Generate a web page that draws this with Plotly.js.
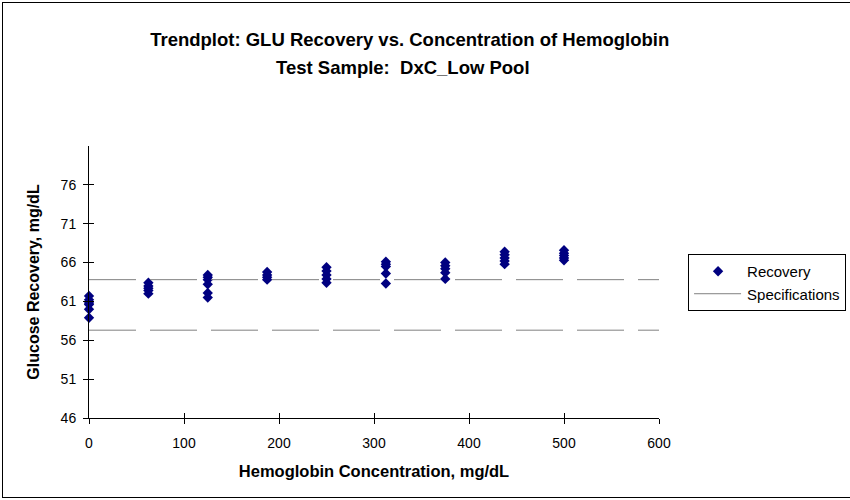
<!DOCTYPE html>
<html>
<head>
<meta charset="utf-8">
<script src="https://cdn.plot.ly/plotly-3.0.1.min.js"></script>
<style>
  html, body { margin: 0; padding: 0; background: #fff; overflow: hidden; }
  #wrap { position: relative; width: 850px; height: 500px; overflow: hidden; }
  #chart { width: 850px; height: 500px; }
  #frame { position: absolute; left: 2px; top: 2px; width: 870px; height: 494px; border: 1px solid #000; pointer-events: none; }
</style>
</head>
<body>
<div id="wrap">
  <div id="chart"></div>
  <div id="frame"></div>
</div>
<script>
// Hemoglobin concentration levels (mg/dL)
const hgbLevels = [0, 62.5, 125, 187.5, 250, 312.5, 375, 437.5, 500];

// Glucose recovery replicates at each level (mg/dL)
const rec0     = [61.7, 61.2, 60.8, 60.6, 60.0, 58.9];
const rec62_5  = [63.4, 63.0, 62.7, 62.4, 62.0];
const rec125   = [64.4, 64.1, 63.8, 63.2, 62.1, 61.5];
const rec187_5 = [64.8, 64.4, 64.1, 63.8];
const rec250   = [65.4, 64.9, 64.4, 63.9, 63.4];
const rec312_5 = [66.1, 65.8, 65.5, 64.6, 63.3];
const rec375   = [66.0, 65.6, 65.2, 64.7, 63.9];
const rec437_5 = [67.4, 67.0, 66.6, 66.2, 65.8];
const rec500   = [67.6, 67.2, 66.9, 66.6, 66.3];

// Specification limits
const specUpper = 63.8;
const specLower = 57.3;
const specRange = [0, 600];

// Axis ticks
const xTicks = [0, 100, 200, 300, 400, 500, 600];
const yTicks = [46, 51, 56, 61, 66, 71, 76];

const recoveryGroups = [rec0, rec62_5, rec125, rec187_5, rec250, rec312_5, rec375, rec437_5, rec500];
const recX = [], recY = [];
recoveryGroups.forEach((g, i) => g.forEach(v => { recX.push(hgbLevels[i]); recY.push(v); }));

const font = 'Liberation Sans, Arial, sans-serif';

const traces = [
  {
    type: 'scatter', mode: 'markers', name: 'Recovery',
    x: recX, y: recY,
    marker: { symbol: 'diamond', size: 8, color: '#000080', line: { width: 0 } },
    cliponaxis: false
  },
  {
    type: 'scatter', mode: 'lines', name: 'Specifications',
    x: [specRange[0], specRange[1], null, specRange[0], specRange[1]],
    y: [specUpper, specUpper, null, specLower, specLower],
    line: { color: '#808080', width: 1, dash: '47px,14px' },
    connectgaps: false
  },
  {
    type: 'scatter', mode: 'markers', x: [null], y: [null],
    xaxis: 'x2', yaxis: 'y2', showlegend: false, hoverinfo: 'skip'
  }
];

const axisCommon = {
  showgrid: false, zeroline: false, showline: true,
  linecolor: '#000', linewidth: 1,
  ticks: 'outside', ticklen: 5, tickcolor: '#000', tickwidth: 1,
  tickfont: { family: font, size: 14, color: '#000' }
};

const layout = {
  width: 850, height: 500,
  margin: { l: 89, r: 191, t: 146, b: 82, autoexpand: false },
  paper_bgcolor: '#fff', plot_bgcolor: '#fff',
  font: { family: font, color: '#000' },
  title: {
    text: 'Trendplot: GLU Recovery vs. Concentration of Hemoglobin',
    font: { family: font, size: 18.5, color: '#000', weight: 'bold' },
    x: 0.482, xanchor: 'center', y: 0.92, yanchor: 'middle'
  },
  annotations: [{
    text: 'Test Sample:  DxC_Low Pool',
    xref: 'paper', yref: 'paper', x: 0.551, y: 1.29,
    xanchor: 'center', yanchor: 'middle', showarrow: false,
    font: { family: font, size: 18.5, color: '#000', weight: 'bold' }
  }],
  xaxis: Object.assign({}, axisCommon, {
    range: [0, 600], tickvals: xTicks, ticktext: xTicks.map(String),
    ticklabelstandoff: 7,
    title: { text: 'Hemoglobin Concentration, mg/dL', font: { family: font, size: 16.5, color: '#000', weight: 'bold' }, standoff: 15 }
  }),
  yaxis: Object.assign({}, axisCommon, {
    range: [46, 81], tickvals: yTicks, ticktext: yTicks.map(String),
    ticklabelstandoff: 4,
    title: { text: 'Glucose Recovery, mg/dL', font: { family: font, size: 16, color: '#000', weight: 'bold' }, standoff: 17 }
  }),
  xaxis2: {
    overlaying: 'x', anchor: 'y2', matches: 'x', range: [0, 600],
    tickvals: xTicks, showticklabels: false, ticks: 'inside', ticklen: 5,
    tickcolor: '#000', showgrid: false, zeroline: false, showline: false, side: 'bottom'
  },
  yaxis2: {
    overlaying: 'y', anchor: 'x2', matches: 'y', range: [46, 81],
    tickvals: yTicks, showticklabels: false, ticks: 'inside', ticklen: 5,
    tickcolor: '#000', showgrid: false, zeroline: false, showline: false, side: 'left'
  },
  showlegend: true,
  legend: {
    x: 1.051, y: 0.603, xanchor: 'left', yanchor: 'top',
    bgcolor: '#fff', bordercolor: '#000', borderwidth: 1,
    font: { family: font, size: 15, color: '#000' },
    itemwidth: 48,
    tracegroupgap: 0
  }
};

Plotly.newPlot('chart', traces, layout, { staticPlot: true, displayModeBar: false });
</script>
</body>
</html>
